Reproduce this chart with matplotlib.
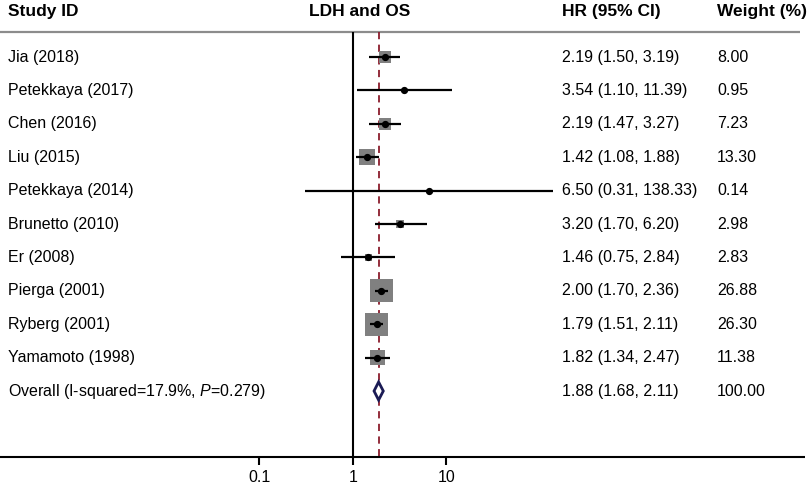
import numpy as np
import matplotlib.pyplot as plt
from matplotlib import transforms

plt.rcParams['font.family'] = ['Liberation Sans', 'DejaVu Sans']
plt.rcParams['mathtext.fontset'] = 'custom'
plt.rcParams['mathtext.it'] = 'Liberation Sans:italic'
plt.rcParams['mathtext.rm'] = 'Liberation Sans'

# data
studies = ['Jia (2018)', 'Petekkaya (2017)', 'Chen (2016)', 'Liu (2015)',
           'Petekkaya (2014)', 'Brunetto (2010)', 'Er (2008)', 'Pierga (2001)',
           'Ryberg (2001)', 'Yamamoto (1998)']
hr = [2.19, 3.54, 2.19, 1.42, 6.50, 3.20, 1.46, 2.00, 1.79, 1.82]
lo = [1.50, 1.10, 1.47, 1.08, 0.31, 1.70, 0.75, 1.70, 1.51, 1.34]
hi = [3.19, 11.39, 3.27, 1.88, 138.33, 6.20, 2.84, 2.36, 2.11, 2.47]
weight = [8.00, 0.95, 7.23, 13.30, 0.14, 2.98, 2.83, 26.88, 26.30, 11.38]

overall_label = r'Overall (I-squared=17.9%, $\it{P}$=0.279)'
overall_hr, overall_lo, overall_hi = 1.88, 1.68, 2.11
overall_weight = 100.00

ticks = [0.1, 1, 10]
tick_labels = ['0.1', '1', '10']

fig = plt.figure(figsize=(8.1, 4.87), dpi=100)
ax = fig.add_axes([0, 0, 1, 1])
ax.set_xscale('log')
ax.set_xlim(10 ** -3.775, 10 ** 4.888)
ax.set_ylim(12.874, -1.707)
ax.axis('off')

rows = np.arange(len(studies))
orow = len(studies)
tr = ax.get_yaxis_transform()  # x in axes fraction, y in data
W = 810.0

hdr_y = -1.35
line_top = -0.749
axis_y = 11.976

# header
for txt, px in [('Study ID', 8), ('HR (95% CI)', 562), ('Weight (%)', 717)]:
    ax.text(px / W, hdr_y, txt, transform=tr, fontsize=12.5, fontweight='bold',
            ha='left', va='center')
ax.text(360 / W, hdr_y, 'LDH and OS', transform=tr, fontsize=12.5,
        fontweight='bold', ha='center', va='center')
ax.hlines(line_top, 0, 800 / W, transform=tr, color='#8c8c8c', lw=1.6)

# reference lines
ax.vlines(1, line_top, axis_y, color='black', lw=1.5, zorder=2)
ax.vlines(overall_hr, line_top, axis_y, color='#8b1c2c', lw=1.3,
          linestyles=(0, (4, 3)), zorder=2)

# study rows
side_px = 23 * np.sqrt(np.array(weight) / 26.88)
ax.scatter(hr, rows, marker='s', s=(side_px * 0.72) ** 2, color='#808080',
           linewidths=0, zorder=3)
ax.hlines(rows, lo, hi, color='black', lw=1.6, zorder=4)
ax.plot(hr, rows, 'o', color='black', ms=4.2, zorder=5)

# pooled diamond
dh = 0.27
ax.fill([overall_lo, overall_hr, overall_hi, overall_hr],
        [orow, orow - dh, orow, orow + dh], facecolor='white',
        edgecolor='#1b1b55', lw=2, zorder=3)

# text columns
for i, s in enumerate(studies):
    ax.text(8 / W, i, s, transform=tr, fontsize=11.5, va='center')
    ax.text(562 / W, i, '%.2f (%.2f, %.2f)' % (hr[i], lo[i], hi[i]),
            transform=tr, fontsize=11.5, va='center')
    ax.text(717 / W, i, '%.2f' % weight[i], transform=tr, fontsize=11.5,
            va='center')
ax.text(8 / W, orow, overall_label, transform=tr, fontsize=11.5, va='center')
ax.text(562 / W, orow, '%.2f (%.2f, %.2f)' % (overall_hr, overall_lo, overall_hi),
        transform=tr, fontsize=11.5, va='center')
ax.text(717 / W, orow, '%.2f' % overall_weight, transform=tr, fontsize=11.5,
        va='center')

# x axis
ax.hlines(axis_y, 0, 805 / W, transform=tr, color='black', lw=1.5)
ax.vlines(ticks, axis_y, 12.216, color='black', lw=1.5)
for t, lab in zip(ticks, tick_labels):
    ax.text(t, 12.6, lab, fontsize=11.5, ha='center', va='center')

fig.savefig('out.png', dpi=100)
